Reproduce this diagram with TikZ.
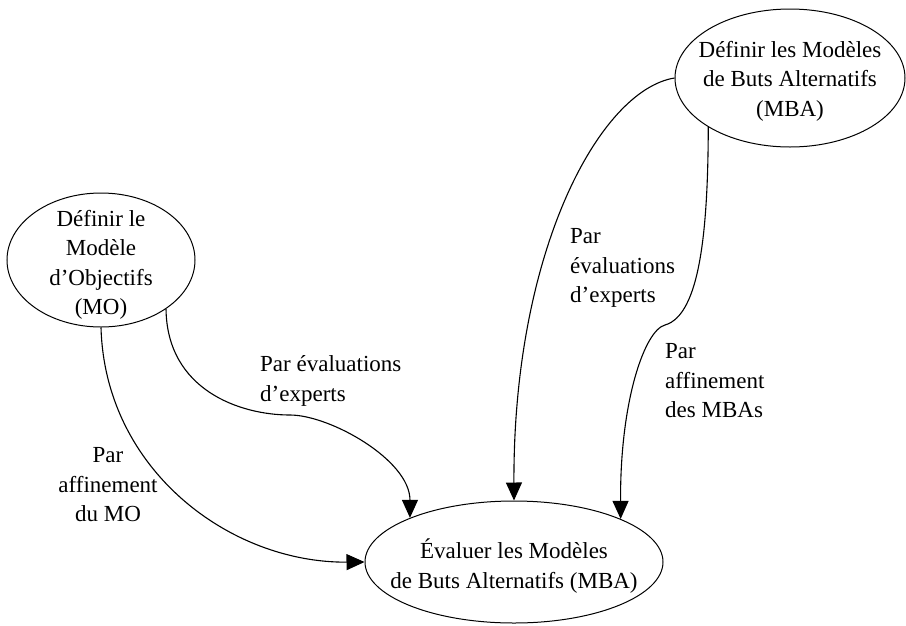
\documentclass[tikz,border=0pt]{standalone}
\usepackage{fontspec}
\setmainfont{Liberation Serif}
\usetikzlibrary{shapes.geometric,arrows.meta}
\begin{document}
\begin{tikzpicture}[x=1pt,y=-1pt,
  ell/.style={draw, ellipse, line width=1pt, inner sep=0pt},
  txt/.style={font=\fontsize{23}{29.5}\selectfont, inner sep=0pt},
  conn/.style={draw, line width=1.1pt, -{Triangle[length=18pt,width=16pt]}}]
\fill[white] (0,0) rectangle (906,625);
\useasboundingbox (0,0) rectangle (906,625);

% nodes
\node[ell, minimum width=188pt, minimum height=134pt] (mo) at (101,260) {};
\node[txt, align=center] (motext) at (101,265) {Définir le\\Modèle\\d’Objectifs\\(MO)};

\node[ell, minimum width=230pt, minimum height=138pt] (mba) at (790,78) {};
\node[txt, align=center] (mbatext) at (790,81) {Définir les Modèles\\de Buts Alternatifs\\(MBA)};

\node[ell, minimum width=298pt, minimum height=122pt] (eval) at (514,562) {};
\node[txt, align=center] (evaltext) at (514,566) {Évaluer les Modèles\\de Buts Alternatifs (MBA)};

% bend points
\coordinate (k1) at (290,415);
\coordinate (k2) at (665,325);

% connectors
\draw[conn] (mo.south) .. controls (105,470) and (230,563) .. (eval.west);
\draw[conn] (mo.-37) .. controls (167,390) and (240,415) .. (k1)
                     .. controls (330,415) and (410,460) .. (eval.157);
\draw[conn] (mba.west) .. controls (600,90) and (513,250) .. (eval.north);
\draw[conn] (mba.211) .. controls (708,230) and (700,315) .. (k2)
                      .. controls (645,330) and (620,400) .. (eval.22.5);

% labels
\node[txt, align=left, anchor=west] (l1) at (260,381) {Par évaluations\\d’experts};
\node[txt, align=left, anchor=west] (l2) at (570,268) {Par\\évaluations\\d’experts};
\node[txt, align=left, anchor=west] (l3) at (665,381) {Par\\affinement\\des MBAs};
\node[txt, align=center] (l4) at (108,485) {Par\\affinement\\du MO};
\end{tikzpicture}
\end{document}
